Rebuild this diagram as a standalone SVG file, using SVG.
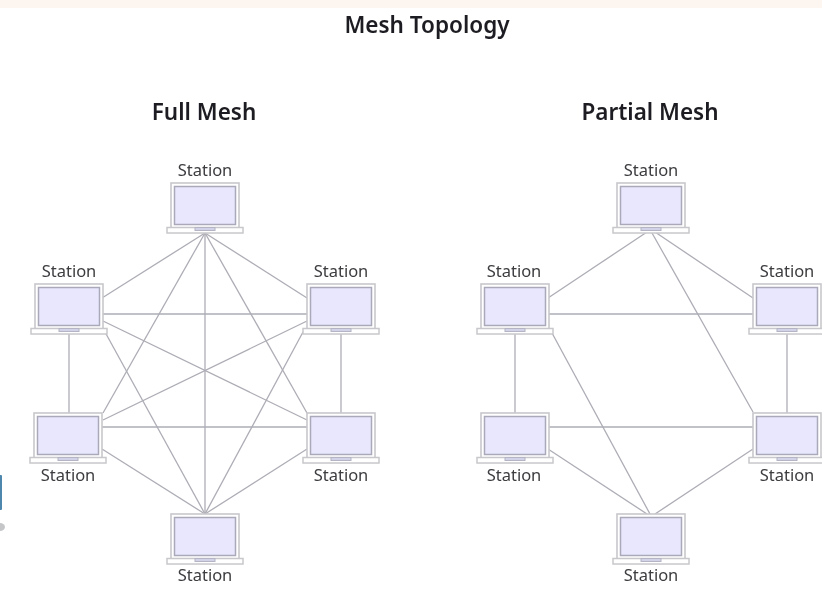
<svg xmlns="http://www.w3.org/2000/svg" xmlns:xlink="http://www.w3.org/1999/xlink" width="822" height="591" viewBox="0 0 822 591">
<style>
text{font-family:"Noto Sans","Open Sans",sans-serif;fill:#2b2b30;text-anchor:middle}
.t{font-size:22.500px;font-weight:600;fill:#1c1c20}
.l{font-size:16.500px;fill:#3c3c40}
.c line{stroke:#adadb6;stroke-width:1.3}
.o{fill:#fff;stroke:#c8c8cc;stroke-width:1.6}
.s{fill:#e8e7fd;stroke:#a9a9ba;stroke-width:1.5}
.b{fill:#fff;stroke:#c8c8cc;stroke-width:1.5}
.n{fill:#d2d2e8;stroke:#b4b4c4;stroke-width:1}
</style>
<defs>
<filter id="soft" x="0" y="0" width="100%" height="100%"><feGaussianBlur stdDeviation="0.4"/></filter>
<g id="laptop">
<rect class="o" x="0" y="0" width="68" height="45"/>
<rect class="s" x="3.500" y="3.500" width="61" height="38"/>
<rect class="b" x="-4" y="44.500" width="76" height="5.500"/>
<rect class="n" x="24" y="44.500" width="20" height="3"/>
</g>
</defs>
<g filter="url(#soft)">
<rect width="822" height="8" fill="#fdf6f0"/>
<g id="decor">
<rect x="-3" y="475" width="5" height="35" rx="1" fill="#4d87ad"/>
<ellipse cx="0" cy="527" rx="5" ry="4" fill="#c4c6c8"/>
</g>
<text class="t" x="427" y="33">Mesh Topology</text>
<text class="t" x="204" y="120">Full Mesh</text>
<text class="t" x="650" y="120">Partial Mesh</text>
<g id="connectors" class="c">
<line x1="205" y1="233" x2="102" y2="298"/>
<line x1="205" y1="233" x2="307" y2="298"/>
<line x1="205" y1="233" x2="103" y2="413"/>
<line x1="205" y1="233" x2="307" y2="413"/>
<line x1="205" y1="233" x2="205" y2="514"/>
<line x1="103" y1="314" x2="307" y2="314"/>
<line x1="69" y1="334" x2="69" y2="413"/>
<line x1="103" y1="321" x2="307" y2="420"/>
<line x1="105" y1="332" x2="205" y2="514"/>
<line x1="103" y1="420" x2="307" y2="321"/>
<line x1="303" y1="332" x2="205" y2="514"/>
<line x1="341" y1="334" x2="341" y2="413"/>
<line x1="102" y1="427" x2="307" y2="427"/>
<line x1="102" y1="449" x2="205" y2="514"/>
<line x1="307" y1="449" x2="205" y2="514"/>
<line x1="647" y1="232" x2="548" y2="298"/>
<line x1="655" y1="232" x2="753" y2="298"/>
<line x1="652" y1="233" x2="753" y2="412"/>
<line x1="549" y1="314" x2="753" y2="314"/>
<line x1="515" y1="334" x2="515" y2="413"/>
<line x1="787" y1="334" x2="787" y2="413"/>
<line x1="549" y1="427" x2="753" y2="427"/>
<line x1="552" y1="333" x2="650" y2="514"/>
<line x1="548" y1="449" x2="647" y2="514"/>
<line x1="753" y1="449" x2="655" y2="514"/>
</g>
<g id="fm-top"><text class="l" x="205" y="176">Station</text><use xlink:href="#laptop" href="#laptop" x="171" y="183"/></g>
<g id="fm-ul"><text class="l" x="69" y="277">Station</text><use xlink:href="#laptop" href="#laptop" x="35" y="284"/></g>
<g id="fm-ur"><text class="l" x="341" y="277">Station</text><use xlink:href="#laptop" href="#laptop" x="307" y="284"/></g>
<g id="fm-ll"><text class="l" x="68" y="481">Station</text><use xlink:href="#laptop" href="#laptop" x="34" y="413"/></g>
<g id="fm-lr"><text class="l" x="341" y="481">Station</text><use xlink:href="#laptop" href="#laptop" x="307" y="413"/></g>
<g id="fm-bottom"><text class="l" x="205" y="581">Station</text><use xlink:href="#laptop" href="#laptop" x="171" y="514"/></g>
<g id="pm-top"><text class="l" x="651" y="176">Station</text><use xlink:href="#laptop" href="#laptop" x="617" y="183"/></g>
<g id="pm-ul"><text class="l" x="514" y="277">Station</text><use xlink:href="#laptop" href="#laptop" x="481" y="284"/></g>
<g id="pm-ur"><text class="l" x="787" y="277">Station</text><use xlink:href="#laptop" href="#laptop" x="753" y="284"/></g>
<g id="pm-ll"><text class="l" x="514" y="481">Station</text><use xlink:href="#laptop" href="#laptop" x="481" y="413"/></g>
<g id="pm-lr"><text class="l" x="787" y="481">Station</text><use xlink:href="#laptop" href="#laptop" x="753" y="413"/></g>
<g id="pm-bottom"><text class="l" x="651" y="581">Station</text><use xlink:href="#laptop" href="#laptop" x="617" y="514"/></g>
</g>
</svg>
